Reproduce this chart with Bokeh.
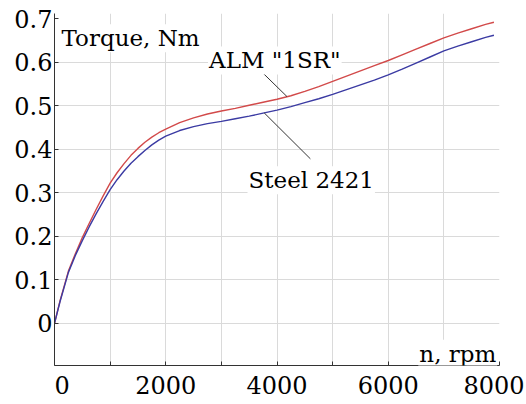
from bokeh.plotting import figure
from bokeh.models import FixedTicker, Label, Range1d
from bokeh.embed import file_html
from bokeh.resources import INLINE

# data
speed_rpm = [0, 100, 250, 375, 500, 625, 750, 875, 1000, 1125, 1250, 1375, 1500, 1625, 1750, 1875,
             2000, 2250, 2500, 2750, 3000, 3250, 3500, 3750, 4000, 4250, 4500, 4750, 5000,
             5250, 5500, 5750, 6000, 6250, 6500, 6750, 7000, 7250, 7500, 7750, 7900]
torque_alm = [0, 0.052, 0.12, 0.16, 0.197, 0.23, 0.262, 0.293, 0.322, 0.346, 0.367, 0.386, 0.402,
              0.416, 0.428, 0.438, 0.446, 0.461, 0.472, 0.481, 0.488, 0.494, 0.501, 0.508, 0.515,
              0.523, 0.533, 0.544, 0.556, 0.568, 0.58, 0.592, 0.604, 0.617, 0.63, 0.643, 0.656,
              0.667, 0.677, 0.687, 0.692]
torque_steel = [0, 0.05, 0.117, 0.156, 0.19, 0.222, 0.252, 0.28, 0.307, 0.33, 0.35, 0.368, 0.383,
                0.397, 0.41, 0.421, 0.43, 0.443, 0.452, 0.459, 0.464, 0.47, 0.476, 0.483, 0.49,
                0.498, 0.507, 0.516, 0.526, 0.537, 0.548, 0.559, 0.571, 0.584, 0.598, 0.612, 0.626,
                0.637, 0.647, 0.657, 0.662]
x_ticks = [0, 1000, 2000, 3000, 4000, 5000, 6000, 7000, 8000]
x_tick_labels = {0: "\u20070", 1000: "", 2000: "2000", 3000: "", 4000: "4000",
                 5000: "", 6000: "6000", 7000: "", 8000: "8000"}
y_ticks = [-0.1, 0, 0.1, 0.2, 0.3, 0.4, 0.5, 0.6, 0.7]
y_tick_labels = {-0.1: "-0.1", 0: "0", 0.1: "0.1", 0.2: "0.2", 0.3: "0.3",
                 0.4: "0.4", 0.5: "0.5", 0.6: "0.6", 0.7: "0.7"}
y_grid_ticks = [0, 0.1, 0.2, 0.3, 0.4, 0.5, 0.6]
alm_name = 'ALM "1SR"'
steel_name = "Steel 2421"
alm_leader_x = [3580, 4180]
alm_leader_y = [0.596, 0.521]
steel_leader_x = [3770, 4600]
steel_leader_y = [0.4836, 0.378]

FONT = "DejaVu Serif"
FS_TICK = "24px"
FS_TEXT = "23px"

p = figure(width=524, height=402, output_backend="svg", toolbar_location=None,
           x_range=Range1d(0, 8000), y_range=Range1d(-0.097, 0.712),
           min_border_left=54, min_border_right=25, min_border_top=13, min_border_bottom=31)
p.outline_line_color = None
p.background_fill_color = "white"

p.xaxis.ticker = FixedTicker(ticks=x_ticks)
p.xaxis.major_label_overrides = x_tick_labels
p.yaxis.ticker = FixedTicker(ticks=y_ticks)
p.yaxis.major_label_overrides = y_tick_labels
for ax in (p.xaxis[0], p.yaxis[0]):
    ax.major_label_text_font = FONT
    ax.major_label_text_font_size = FS_TICK
    ax.major_label_text_color = "black"
    ax.major_label_text_line_height = 1.0
    ax.axis_line_color = "#333333"
    ax.major_tick_line_color = "#333333"
    ax.major_tick_in = 4
    ax.major_tick_out = 0
    ax.minor_tick_line_color = None
p.xaxis.major_label_standoff = 6
p.yaxis.major_label_standoff = 2

p.xgrid.ticker = FixedTicker(ticks=x_ticks[1:-1])
p.ygrid.ticker = FixedTicker(ticks=y_grid_ticks)
p.xgrid.grid_line_color = "#dadada"
p.ygrid.grid_line_color = "#dadada"

p.line(speed_rpm, torque_alm, line_color="#d24a4a", line_width=1.4)
p.line(speed_rpm, torque_steel, line_color="#3b3ba3", line_width=1.4)
p.line(alm_leader_x, alm_leader_y, line_color="#333333", line_width=1)
p.line(steel_leader_x, steel_leader_y, line_color="#333333", line_width=1)

def lab(x, y, t, align="left"):
    p.add_layout(Label(x=x, y=y, text=t, text_font=FONT, text_font_size=FS_TEXT,
                       text_color="black", text_align=align, text_baseline="alphabetic",
                       background_fill_color="white", padding=1))

lab(108, 0.655, "Torque, Nm")
lab(2760, 0.604, alm_name)
lab(3470, 0.329, steel_name)
lab(7960, -0.07, "n, rpm", align="right")

open("out.html", "w").write(file_html(p, INLINE))
